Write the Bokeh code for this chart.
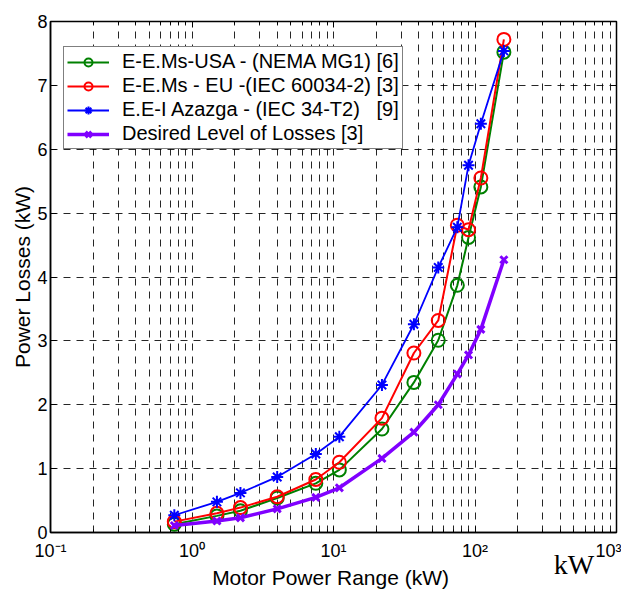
from bokeh.plotting import figure
from bokeh.models import (Range1d, FixedTicker, CustomJSTickFormatter, Legend,
                          LegendItem, LogAxis, LinearAxis)
from bokeh.embed import file_html
from bokeh.resources import INLINE

# ---- data ----
motor_kw = [0.75, 1.5, 2.2, 4, 7.5, 11, 22, 37, 55, 75, 90, 110, 160]
usa_nema = [0.13, 0.26, 0.34, 0.54, 0.77, 0.98, 1.62, 2.35, 3.01, 3.87, 4.62, 5.41, 7.52]
eu_iec = [0.17, 0.30, 0.39, 0.56, 0.83, 1.10, 1.79, 2.81, 3.32, 4.81, 4.74, 5.55, 7.72]
azazga = [0.27, 0.48, 0.62, 0.87, 1.23, 1.50, 2.31, 3.26, 4.15, 4.78, 5.75, 6.40, 7.54]
desired = [0.11, 0.18, 0.23, 0.37, 0.55, 0.70, 1.16, 1.57, 2.00, 2.48, 2.78, 3.18, 4.27]

series_names = ["E-E.Ms-USA - (NEMA MG1) [6]",
                "E-E.Ms - EU -(IEC 60034-2) [3]",
                "E.E-I Azazga - (IEC 34-T2)   [9]",
                "Desired Level of Losses [3]"]

x_ticks = [0.1, 1, 10, 100, 1000]
x_tick_labels = ["10\u207b\u00b9", "10\u2070", "10\u00b9", "10\u00b2", "10\u00b3"]
x_minor = [m * d for d in [0.1, 1, 10, 100] for m in range(2, 10)]
y_ticks = [0, 1, 2, 3, 4, 5, 6, 7, 8]
unit_tick = [500]
unit_label = ["kW"]

FONT = "Liberation Sans"

p = figure(width=621, height=591, x_axis_type="log",
           x_range=Range1d(0.1, 1000), y_range=Range1d(0, 8),
           output_backend="svg", toolbar_location=None,
           min_border_left=50, min_border_right=5,
           min_border_top=21, min_border_bottom=58)

p.background_fill_color = "white"
p.border_fill_color = "white"
p.outline_line_color = "black"
p.outline_line_width = 1.5

# axes
p.xaxis.ticker = FixedTicker(ticks=x_ticks, minor_ticks=x_minor)
p.xaxis.formatter = CustomJSTickFormatter(args=dict(vals=x_ticks, labs=x_tick_labels), code="""
let best = 0, bd = 1e9;
for (let i = 0; i < vals.length; i++) {
  const d = Math.abs(Math.log10(vals[i]) - Math.log10(tick));
  if (d < bd) { bd = d; best = i; }
}
return labs[best];
""")
p.yaxis.ticker = FixedTicker(ticks=y_ticks)

for ax in (p.xaxis, p.yaxis):
    ax.axis_line_color = "black"
    ax.axis_line_width = 1.5
    ax.major_tick_in = 6
    ax.major_tick_out = 0
    ax.minor_tick_in = 3
    ax.minor_tick_out = 0
    ax.major_tick_line_color = "black"
    ax.minor_tick_line_color = "black"
    ax.major_label_text_font = FONT
    ax.major_label_text_font_size = "18px"
    ax.major_label_text_color = "black"
    ax.axis_label_text_font = FONT
    ax.axis_label_text_font_size = "21px"
    ax.axis_label_text_font_style = "normal"
    ax.axis_label_text_color = "black"

p.yaxis.minor_tick_line_color = None
p.xaxis.axis_label = "Motor Power Range  (kW)"
p.yaxis.axis_label = "Power Losses (kW)"
p.xaxis.major_label_standoff = 8
p.xaxis.axis_label_standoff = 2
p.yaxis.major_label_standoff = 3
p.yaxis.axis_label_standoff = 0

# box ticks on top and right (no labels)
blank = CustomJSTickFormatter(code="return '';")
top_axis = LogAxis(ticker=FixedTicker(ticks=x_ticks, minor_ticks=x_minor),
                   formatter=blank, axis_line_color=None,
                   major_tick_in=6, major_tick_out=0, minor_tick_in=3,
                   minor_tick_out=0, major_label_standoff=0,
                   major_label_text_font_size="1px")
p.add_layout(top_axis, "above")
right_axis = LinearAxis(ticker=FixedTicker(ticks=y_ticks), formatter=blank,
                        axis_line_color=None, major_tick_in=6, major_tick_out=0,
                        minor_tick_line_color=None, major_label_standoff=0,
                        major_label_text_font_size="1px")
p.add_layout(right_axis, "right")

# unit text "kW" next to the 10^3 tick (second, unlined axis pulled up)
unit_axis = LogAxis(ticker=FixedTicker(ticks=unit_tick, minor_ticks=[]),
                    formatter=CustomJSTickFormatter(args=dict(labs=unit_label),
                                                    code="return labs[0];"),
                    axis_line_color=None, major_tick_line_color=None,
                    minor_tick_line_color=None, major_tick_in=0, major_tick_out=0,
                    major_label_text_font="Liberation Serif",
                    major_label_text_font_size="28px",
                    major_label_text_color="black",
                    major_label_standoff=-43)
p.add_layout(unit_axis, "below")

# grid
p.xgrid.ticker = FixedTicker(ticks=x_ticks, minor_ticks=x_minor)
p.ygrid.ticker = FixedTicker(ticks=y_ticks)
for g in (p.xgrid, p.ygrid):
    g.grid_line_color = "black"
    g.grid_line_alpha = 0.85
    g.grid_line_dash = "7 6"
    g.grid_line_width = 1
p.xgrid.minor_grid_line_color = "black"
p.xgrid.minor_grid_line_alpha = 0.85
p.xgrid.minor_grid_line_dash = "7 6"

# series
items = []
l1 = p.line(motor_kw, usa_nema, line_color="#008000", line_width=2)
m1 = p.scatter(motor_kw, usa_nema, marker="circle", size=13, fill_color=None,
               line_color="#008000", line_width=2)
items.append(LegendItem(label=series_names[0], renderers=[l1, m1]))

l2 = p.line(motor_kw, eu_iec, line_color="#ff0000", line_width=2)
m2 = p.scatter(motor_kw, eu_iec, marker="circle", size=13, fill_color=None,
               line_color="#ff0000", line_width=2)
items.append(LegendItem(label=series_names[1], renderers=[l2, m2]))

l3 = p.line(motor_kw, azazga, line_color="#0000ff", line_width=1.8)
m3 = p.scatter(motor_kw, azazga, marker="asterisk", size=12,
               line_color="#0000ff", line_width=2)
items.append(LegendItem(label=series_names[2], renderers=[l3, m3]))

l4 = p.line(motor_kw, desired, line_color="#8000ff", line_width=3.5)
m4 = p.scatter(motor_kw, desired, marker="x", size=10,
               line_color="#8000ff", line_width=3)
items.append(LegendItem(label=series_names[3], renderers=[l4, m4]))

legend = Legend(items=items, location=(13, 383))
legend.border_line_color = "black"
legend.border_line_width = 1.5
legend.background_fill_color = "white"
legend.background_fill_alpha = 1
legend.label_text_font = FONT
legend.label_text_font_size = "20px"
legend.label_text_color = "black"
legend.glyph_width = 42
legend.glyph_height = 20
legend.label_height = 20
legend.spacing = 1
legend.padding = 3
legend.margin = 0
legend.label_standoff = 13
p.add_layout(legend, "center")

open("out.html", "w").write(file_html(p, INLINE))
